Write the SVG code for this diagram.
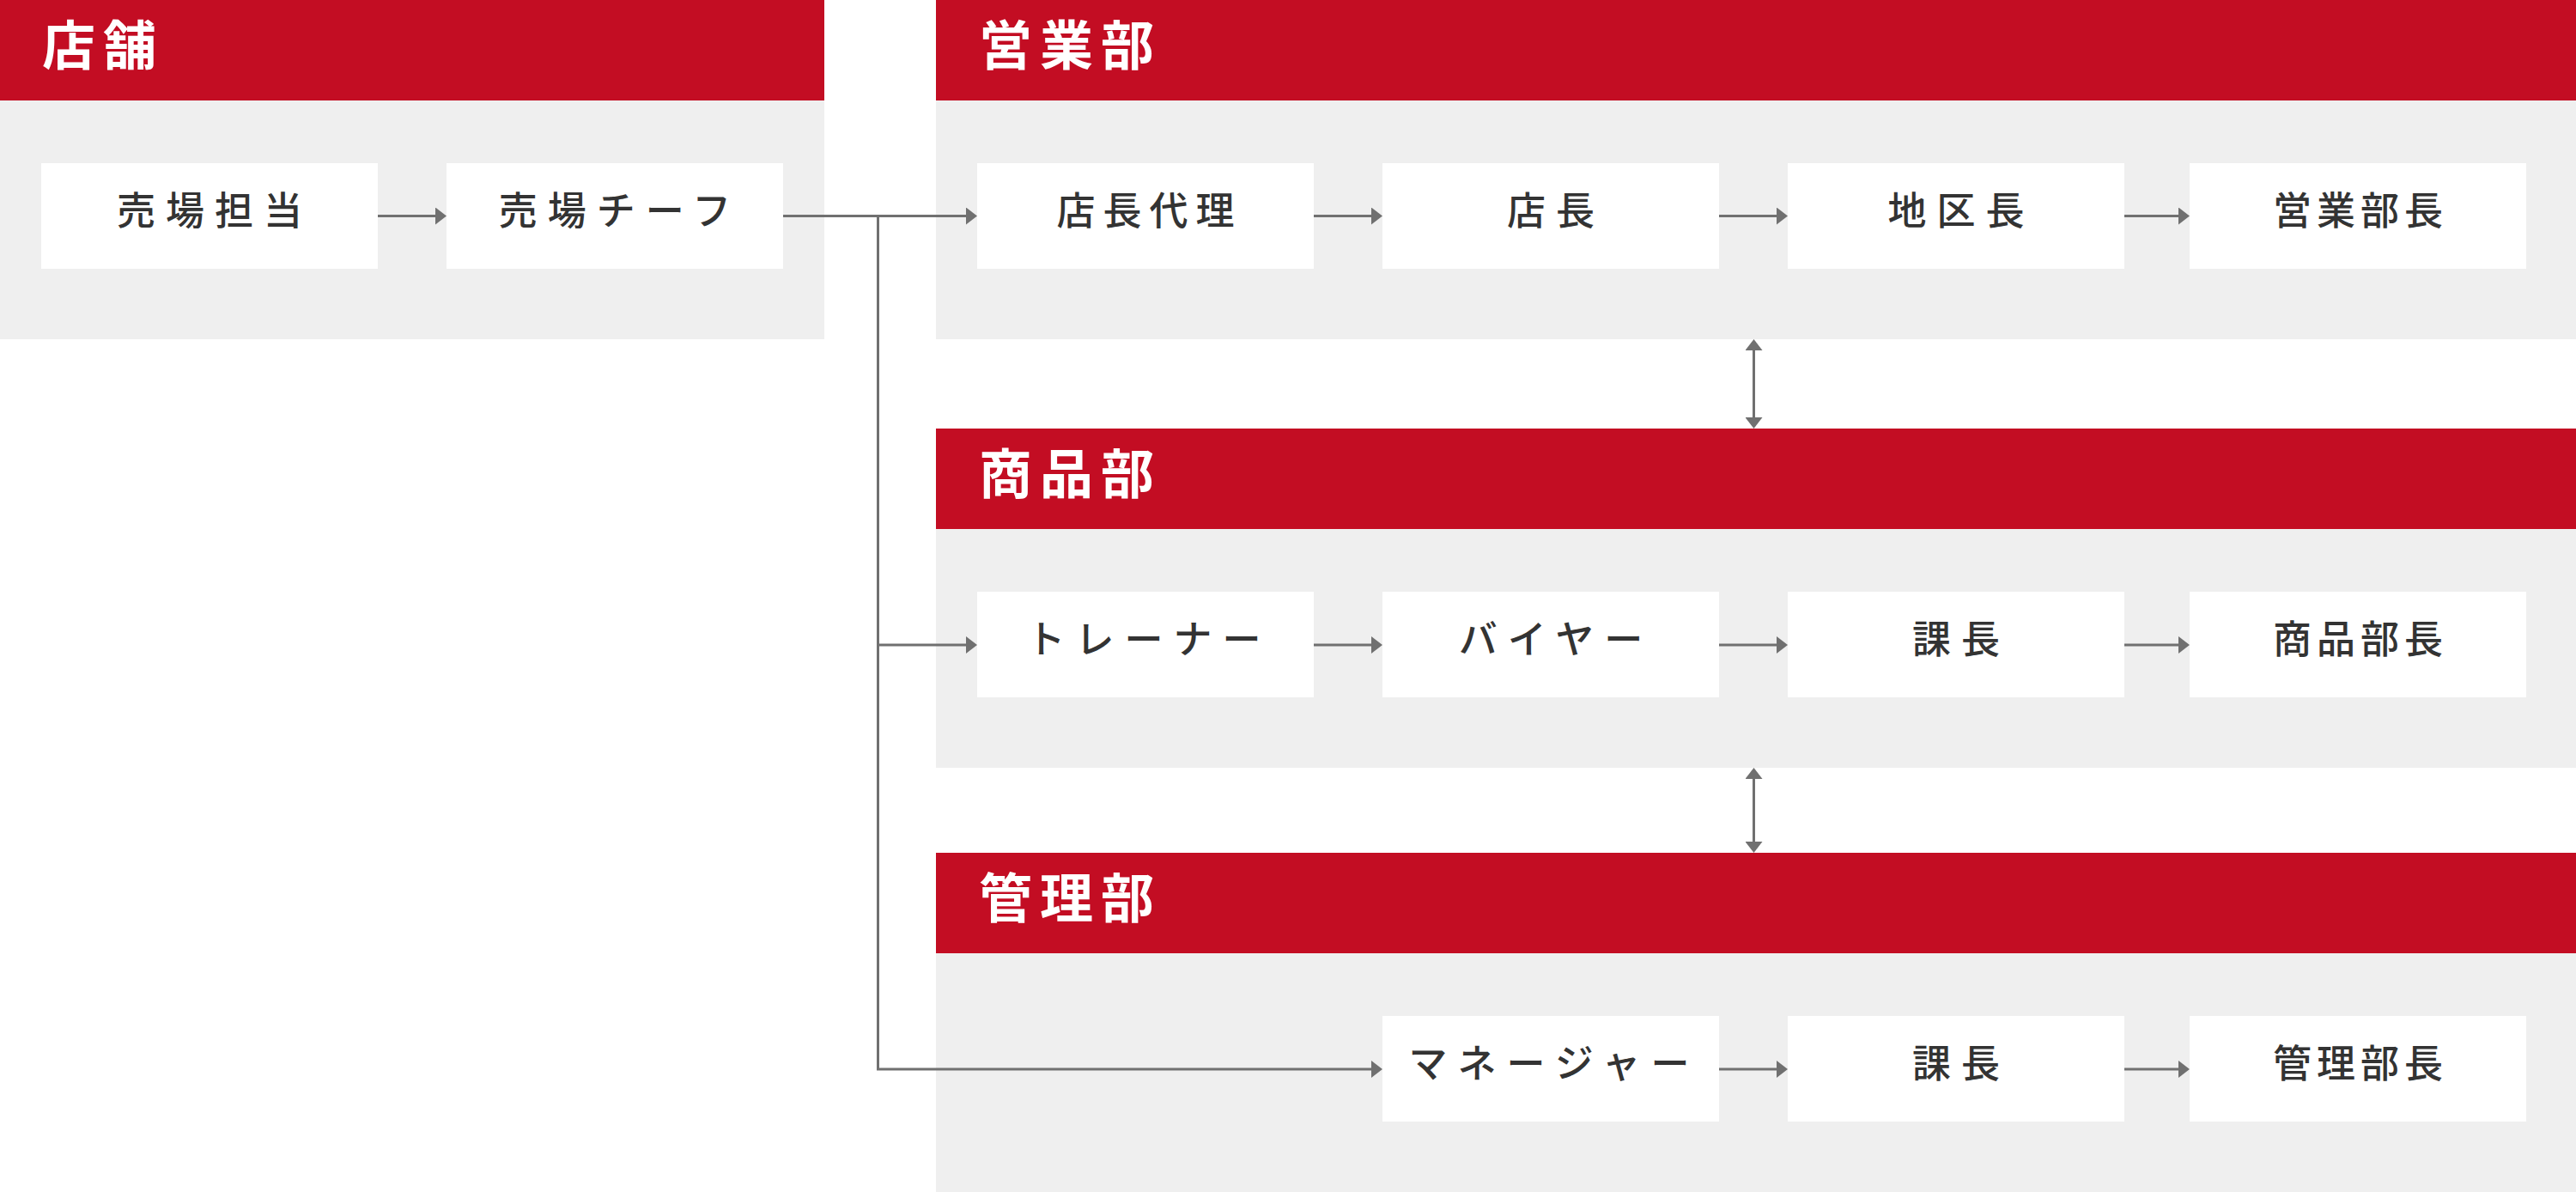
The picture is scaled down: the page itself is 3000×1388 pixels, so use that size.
<svg xmlns="http://www.w3.org/2000/svg" width="3000" height="1388" viewBox="0 0 3000 1388">
  <defs>
    <style>
      .panel { fill: #efefef; }
      .head { fill: #c30d23; }
      .box { fill: #ffffff; }
      .title { font-family: "Noto Sans CJK JP", "Noto Sans", sans-serif; font-size: 62px; font-weight: 700; fill: #ffffff; letter-spacing: 9px; }
      .label { font-family: "Noto Sans CJK JP", "Noto Sans", sans-serif; font-size: 45px; font-weight: 500; fill: #333333; letter-spacing: 12px; text-anchor: middle; }
      .mid { letter-spacing: 9px; }
      .tight { letter-spacing: 6px; }
      .conn { fill: none; stroke: #707070; stroke-width: 3; }
    </style>
    <marker id="ah" markerUnits="userSpaceOnUse" markerWidth="13" markerHeight="20" refX="5" refY="10" orient="auto-start-reverse" viewBox="0 0 13 20">
      <path d="M0,0 L13,10 L0,20 z" fill="#707070"/>
    </marker>
  </defs>

  <g id="section-tenpo">
    <rect class="panel" x="0" y="0" width="960" height="395"/>
    <rect class="head" x="0" y="0" width="960" height="117"/>
    <text class="title" x="49" y="76">店舗</text>
  </g>
  <g id="section-eigyo">
    <rect class="panel" x="1090" y="0" width="1910" height="395"/>
    <rect class="head" x="1090" y="0" width="1910" height="117"/>
    <text class="title" x="1140" y="76">営業部</text>
  </g>
  <g id="section-shohin">
    <rect class="panel" x="1090" y="499" width="1910" height="395"/>
    <rect class="head" x="1090" y="499" width="1910" height="117"/>
    <text class="title" x="1140" y="575">商品部</text>
  </g>
  <g id="section-kanri">
    <rect class="panel" x="1090" y="993" width="1910" height="395"/>
    <rect class="head" x="1090" y="993" width="1910" height="117"/>
    <text class="title" x="1140" y="1069">管理部</text>
  </g>

  <g id="node-uriba-tanto"><rect class="box" x="48" y="190" width="392" height="123"/><text class="label" x="250" y="262">売場担当</text></g>
  <g id="node-uriba-chief"><rect class="box" x="520" y="190" width="392" height="123"/><text class="label" x="722" y="262">売場チーフ</text></g>
  <g id="node-tencho-dairi"><rect class="box" x="1138" y="190" width="392" height="123"/><text class="label mid" x="1338.5" y="262">店長代理</text></g>
  <g id="node-tencho"><rect class="box" x="1610" y="190" width="392" height="123"/><text class="label" x="1812" y="262">店長</text></g>
  <g id="node-chikucho"><rect class="box" x="2082" y="190" width="392" height="123"/><text class="label" x="2284" y="262">地区長</text></g>
  <g id="node-eigyo-bucho"><rect class="box" x="2550" y="190" width="392" height="123"/><text class="label tight" x="2749" y="262">営業部長</text></g>

  <g id="node-trainer"><rect class="box" x="1138" y="689" width="392" height="123"/><text class="label" x="1338" y="761">トレーナー</text></g>
  <g id="node-buyer"><rect class="box" x="1610" y="689" width="392" height="123"/><text class="label" x="1812" y="761">バイヤー</text></g>
  <g id="node-kacho-shohin"><rect class="box" x="2082" y="689" width="392" height="123"/><text class="label" x="2284" y="761">課長</text></g>
  <g id="node-shohin-bucho"><rect class="box" x="2550" y="689" width="392" height="123"/><text class="label tight" x="2749" y="761">商品部長</text></g>

  <g id="node-manager"><rect class="box" x="1610" y="1183" width="392" height="123"/><text class="label" x="1810" y="1255">マネージャー</text></g>
  <g id="node-kacho-kanri"><rect class="box" x="2082" y="1183" width="392" height="123"/><text class="label" x="2284" y="1255">課長</text></g>
  <g id="node-kanri-bucho"><rect class="box" x="2550" y="1183" width="392" height="123"/><text class="label tight" x="2749" y="1255">管理部長</text></g>

  <g id="connectors">
    <path class="conn" d="M440,251.5 H512" marker-end="url(#ah)"/>
    <path class="conn" d="M912,251.5 H1130" marker-end="url(#ah)"/>
    <path class="conn" d="M1530,251.5 H1602" marker-end="url(#ah)"/>
    <path class="conn" d="M2002,251.5 H2074" marker-end="url(#ah)"/>
    <path class="conn" d="M2474,251.5 H2542" marker-end="url(#ah)"/>

    <path class="conn" d="M1022.5,251.5 V1245 H1602" marker-end="url(#ah)"/>
    <path class="conn" d="M1022.5,751 H1130" marker-end="url(#ah)"/>
    <path class="conn" d="M1530,751 H1602" marker-end="url(#ah)"/>
    <path class="conn" d="M2002,751 H2074" marker-end="url(#ah)"/>
    <path class="conn" d="M2474,751 H2542" marker-end="url(#ah)"/>

    <path class="conn" d="M2002,1245 H2074" marker-end="url(#ah)"/>
    <path class="conn" d="M2474,1245 H2542" marker-end="url(#ah)"/>

    <path class="conn" d="M2042.5,403 V491" marker-start="url(#ah)" marker-end="url(#ah)"/>
    <path class="conn" d="M2042.5,902 V985" marker-start="url(#ah)" marker-end="url(#ah)"/>
  </g>
</svg>
